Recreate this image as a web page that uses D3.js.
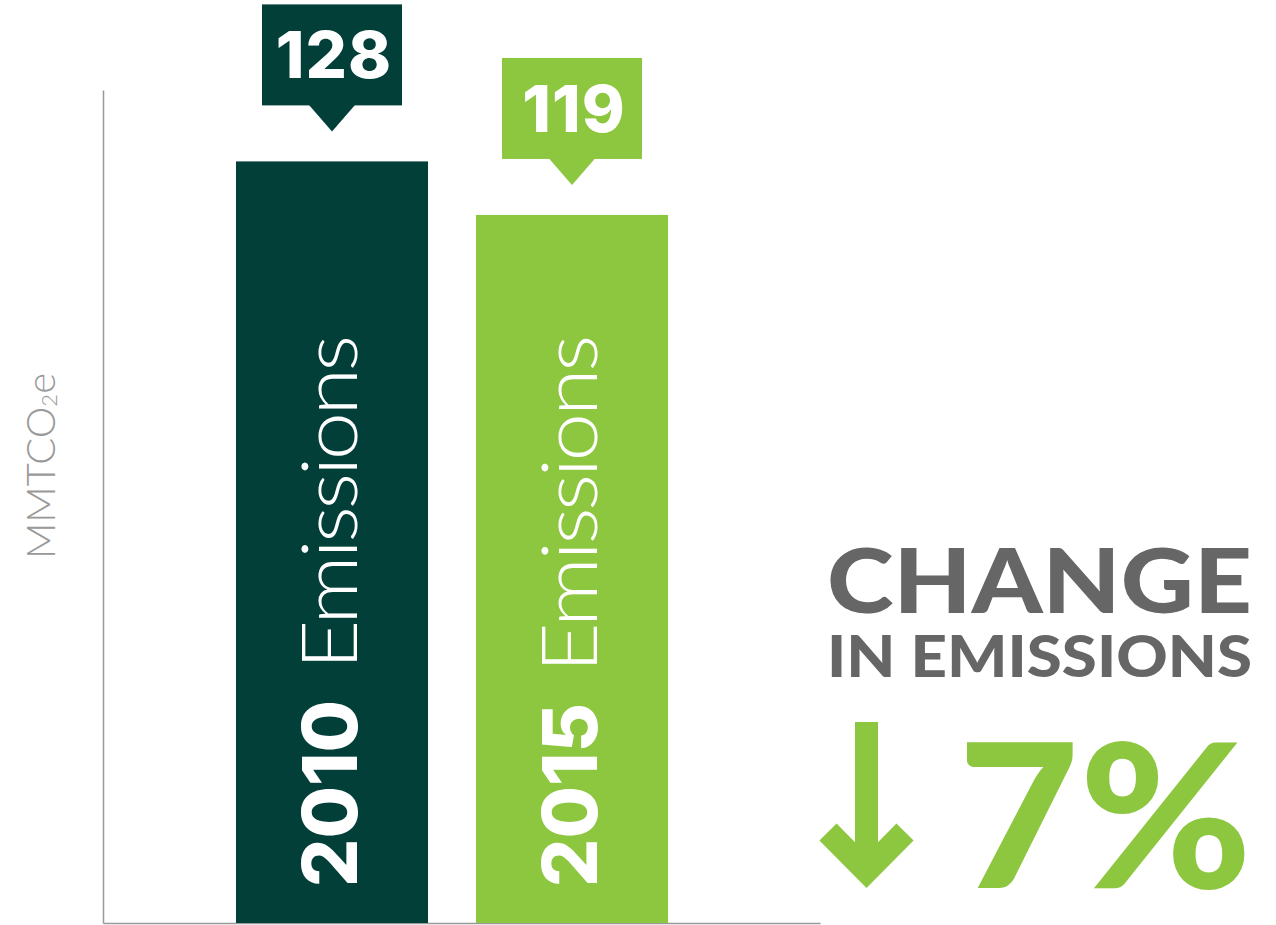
<!DOCTYPE html>
<html>
<head>
<meta charset="utf-8">
<script src="https://cdn.jsdelivr.net/npm/d3@7"></script>
<style>
  body { margin: 0; background: white; }
  svg { display: block; }
</style>
</head>
<body>
<svg id="chart"></svg>
<script>
// data
let years = ["2010", "2015"];
let emissions = [128, 119];
let barColors = ["#013f38", "#8dc63f"];
let barWord = "Emissions";
let yLabel = ["MMTCO", "2", "e"];
let changeLines = ["CHANGE", "IN EMISSIONS"];
let changePct = "7%";

let width = 1276;
let height = 925;
let font = "Lato, 'Open Sans', sans-serif";
let numFont = "Inter, 'Open Sans', sans-serif";

let svg = d3.select("#chart")
            .attr("width", width)
            .attr("height", height)
            .style("background-color", "white");

// stretch a text horizontally so it spans the wanted width
function fitWidth(sel, x, y, w){
    let len = sel.node().getComputedTextLength();
    sel.attr("x", 0).attr("y", 0)
       .attr("transform", `translate(${x}, ${y}) scale(${w / len}, 1)`);
}

let scaleX = d3.scaleBand()
               .domain(years)
               .range([103, 820])
               .paddingInner(0.2)
               .paddingOuter(0.59375)
               .align(0.4667);

let scaleY = d3.scaleLinear()
               .domain([0, 140])
               .range([923, 90]);

// axes (lines only)
let yAxis = d3.axisLeft(scaleY).ticks(0).tickSizeOuter(0);
svg.append("g")
   .attr("id", "y-axis")
   .attr("transform", "translate(103, 0)")
   .call(yAxis);

let xAxis = d3.axisBottom(scaleX).tickSize(0).tickFormat("");
svg.append("g")
   .attr("id", "x-axis")
   .attr("transform", "translate(0, 923)")
   .call(xAxis);

svg.selectAll(".domain")
   .attr("stroke", "#999")
   .attr("stroke-width", 1.5);

let data = years.map((y, i) => ({year: y, value: emissions[i], color: barColors[i]}));

// bars
svg.selectAll("rect.bar")
   .data(data)
   .enter()
   .append("rect")
   .attr("class", "bar")
   .attr("x", d => scaleX(d.year))
   .attr("y", d => scaleY(d.value))
   .attr("width", scaleX.bandwidth())
   .attr("height", d => scaleY(0) - scaleY(d.value))
   .attr("fill", d => d.color);

// value callouts
let callout = svg.selectAll("g.callout")
   .data(data)
   .enter()
   .append("g")
   .attr("class", "callout")
   .attr("transform", d => `translate(${scaleX(d.year) + scaleX.bandwidth() / 2}, ${scaleY(d.value)})`);

callout.append("rect")
   .attr("x", -70)
   .attr("y", -157)
   .attr("width", 140)
   .attr("height", 101)
   .attr("fill", d => d.color);

callout.append("path")
   .attr("d", "M-23,-56.5L23,-56.5L0,-30Z")
   .attr("fill", d => d.color);

callout.append("text")
   .attr("x", 2)
   .attr("y", -83)
   .attr("text-anchor", "middle")
   .style("font-family", numFont)
   .style("font-weight", 800)
   .style("font-size", "65px")
   .style("letter-spacing", "1px")
   .attr("fill", "white")
   .text(d => d.value);

// rotated labels inside bars
let barLabel = svg.selectAll("g.bar-label")
   .data(data)
   .enter()
   .append("g")
   .attr("class", "bar-label")
   .attr("transform", d => `translate(${scaleX(d.year) + scaleX.bandwidth() / 2 + 25}, 887) rotate(-90)`);

barLabel.append("text")
   .attr("class", "year")
   .style("font-family", numFont)
   .style("font-weight", 800)
   .style("font-size", "76px")
   .attr("fill", "white")
   .text(d => d.year);

barLabel.each(function() {
    let g = d3.select(this);
    let yearLen = g.select("text.year").node().getComputedTextLength();
    let start = yearLen + 30;
    let word = g.append("text")
     .style("font-family", font)
     .style("font-weight", 300)
     .style("font-size", "77px")
     .style("letter-spacing", "-3px")
     .attr("fill", "white")
     .text(barWord);
    fitWidth(word, start, 0, 549 - start);
});

// y label
let yl = svg.append("text")
   .attr("transform", "translate(55, 559) rotate(-90)")
   .style("font-family", font)
   .style("font-weight", 300)
   .style("font-size", "40px")
   .attr("fill", "#999");
yl.append("tspan").text(yLabel[0]);
yl.append("tspan").style("font-size", "22px").attr("dy", 2).text(yLabel[1]);
yl.append("tspan").attr("dy", -2).text(yLabel[2]);

// change summary
let line1 = svg.append("text")
   .style("font-family", font)
   .style("font-weight", 900)
   .style("font-size", "90px")
   .attr("fill", "#666")
   .text(changeLines[0]);
fitWidth(line1, 827, 613, 425);

let line2 = svg.append("text")
   .style("font-family", font)
   .style("font-weight", 900)
   .style("font-size", "58px")
   .attr("fill", "#666")
   .text(changeLines[1]);
fitWidth(line2, 827, 677, 425);

// down arrow
svg.append("line")
   .attr("x1", 866.5).attr("y1", 722)
   .attr("x2", 866.5).attr("y2", 870)
   .attr("stroke", barColors[1])
   .attr("stroke-width", 23);

svg.append("polyline")
   .attr("points", "828,832 866.5,871 905,832")
   .attr("fill", "none")
   .attr("stroke", barColors[1])
   .attr("stroke-width", 24)
   .attr("stroke-linejoin", "miter");

let pct = svg.append("text")
   .style("font-family", font)
   .style("font-weight", 900)
   .style("font-size", "200px")
   .attr("fill", barColors[1])
   .text(changePct);
fitWidth(pct, 958, 888, 294);
</script>
</body>
</html>
